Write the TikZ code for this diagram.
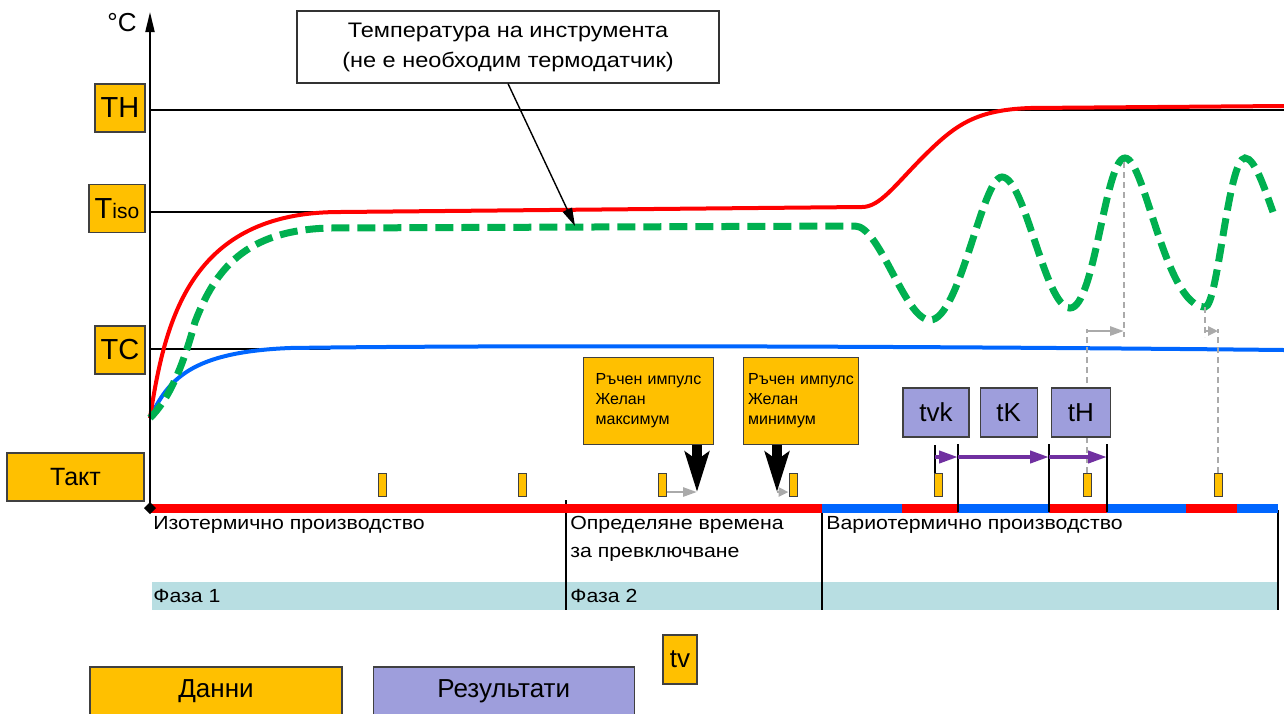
\documentclass[tikz,border=0pt]{standalone}
\usepackage{fontspec}
\setmainfont{Liberation Sans}
\newfontfamily\widefont[FakeStretch=1.12]{Liberation Sans}
\usetikzlibrary{positioning,arrows.meta}
\definecolor{boxgold}{RGB}{255,192,0}
\definecolor{boxlav}{RGB}{158,158,220}
\definecolor{arrowviolet}{RGB}{112,48,160}
\definecolor{phasebg}{RGB}{184,222,226}
\definecolor{hotred}{RGB}{255,0,0}
\definecolor{coolblue}{RGB}{0,102,255}
\definecolor{toolgreen}{RGB}{0,176,80}
\definecolor{guidegray}{RGB}{170,170,170}
\tikzset{
  data/.style={draw=black!75, fill=boxgold, line width=0.6pt, inner sep=0pt},
  result/.style={draw=black!75, fill=boxlav, line width=0.6pt, inner sep=0pt},
  levelbox/.style={data, font=\fontsize{14.5}{16}\selectfont, minimum height=24pt},
  pulsebox/.style={data, font=\fontsize{8}{10}\selectfont, align=left, text width=53pt,
    minimum height=43.5pt, anchor=north west},
  taktmark/.style={data, line width=0.5pt, minimum width=4pt, minimum height=11.5pt},
  period/.style={result, font=\fontsize{13}{15}\selectfont, minimum height=24.5pt},
  legendbox/.style={font=\fontsize{13}{15}\selectfont, minimum width=126pt, minimum height=24.5pt},
  phasetext/.style={font=\widefont\fontsize{9.5}{14}\selectfont, inner sep=0pt, anchor=west, align=left},
  callout/.style={draw=black!80, fill=white, line width=0.6pt, align=center,
    font=\widefont\fontsize{10.5}{15}\selectfont, minimum width=211pt, minimum height=36pt},
  refline/.style={black, line width=0.6pt},
  tcurve/.style={line width=2pt},
  toolcurve/.style={toolgreen, line width=3.5pt, dash pattern=on 9pt off 4pt},
  axisline/.style={black, line width=1pt, -{Triangle[length=10pt,width=4.5pt]}},
  pointer/.style={black, line width=0.7pt, -{Triangle[length=9pt,width=5pt]}},
  pulsearrow/.style={black, line width=5pt, -{Stealth[length=20pt,width=12pt,inset=4pt]}},
  cyclearrow/.style={arrowviolet, line width=2pt, -{Triangle[length=9.5pt,width=6pt]}},
  shiftarrow/.style={guidegray, line width=1.3pt, -{Triangle[length=7pt,width=4.5pt]}},
  guide/.style={guidegray, line width=0.7pt, dash pattern=on 3pt off 2pt},
  divider/.style={black, line width=0.9pt},
}
\begin{document}
\begin{tikzpicture}[x=0.5pt, y=-0.5pt]
  \useasboundingbox (0,0) rectangle (1284,713);

  % phases
  \fill[phasebg] (152,582) rectangle (1278,610);
  \draw[divider] (566,500) -- (566,610);
  \draw[divider] (822,510) -- (822,610);
  \draw[divider] (1278,510) -- (1278,610);

  \draw[refline] (150,110) -- (1284,110);
  \draw[refline] (150,212) -- (343,212);
  \draw[refline] (150,349) -- (330,349);

  % temperatures
  \draw[tcurve, coolblue] (150,418) .. controls (168,380) and (190,352) .. (290,348)
    .. controls (500,345) and (900,346) .. (1284,350);
  \draw[tcurve, hotred] (150,418) .. controls (165,320) and (190,212) .. (340,212) -- (862,207)
    .. controls (880,207) and (895,185) .. (923,157)
    .. controls (955,125) and (975,110) .. (1030,108) -- (1284,106);
  \draw[toolcurve] (150,418) .. controls (168,400) and (182,370) .. (195,322)
    .. controls (215,270) and (245,230) .. (330,228) -- (855,226)
    .. controls (880,226) and (905,320) .. (930,320)
    .. controls (960,320) and (982,177) .. (1002,177)
    .. controls (1025,177) and (1045,308) .. (1070,308)
    .. controls (1095,308) and (1105,158) .. (1125,158)
    .. controls (1145,158) and (1165,307) .. (1205,307)
    .. controls (1218,307) and (1228,158) .. (1245,158)
    .. controls (1255,158) and (1265,190) .. (1273,212);

  % cycle bar
  \foreach \from/\to/\col in {150/822/hotred, 822/902/coolblue, 902/958/hotred,
      958/1049/coolblue, 1049/1107/hotred, 1107/1186/coolblue, 1186/1237/hotred, 1237/1278/coolblue}
    \draw[\col, line width=4.5pt] (\from,508) -- (\to,508);
  \draw[axisline] (150,508) -- (150,12);
  \fill (150,502) -- (156,508) -- (150,514) -- (144,508) -- cycle;
  \node[font=\fontsize{13}{15}\selectfont, inner sep=0pt] (unit) at (122,23) {°C};

  \foreach \x in {958,1049,1107}
    \draw[black, line width=0.6pt] (\x,444) -- (\x,512);
  \draw[black, line width=0.6pt] (935,445) -- (935,473);

  \foreach \x [count=\i] in {382,522,662,793,938,1087,1218}
    \node[taktmark] (m\i) at (\x,485) {};

  % switching points
  \coordinate (peak) at (1124,162);
  \coordinate (trough) at (1205,307);
  \draw[guide] (peak) -- (peak |- 0,337);
  \draw[guide] (m6.north) -- (m6.north |- 0,329);
  \draw[shiftarrow] (m6.north |- 0,331) -- (peak |- 0,331);
  \draw[guide] (trough) -- (trough |- 0,337);
  \draw[guide] (m7.north) -- (m7.north |- 0,329);
  \draw[shiftarrow, -{Triangle[length=5pt,width=4.5pt]}] (trough |- 0,331) -- (m7.north |- 0,331);

  \coordinate (c0) at (935,457);
  \coordinate (c1) at (958,457);
  \coordinate (c2) at (1049,457);
  \coordinate (c3) at (1107,457);
  \draw[cyclearrow] (c0) -- (c1);
  \draw[cyclearrow] (c1) -- (c2);
  \draw[cyclearrow] (c2) -- (c3);

  % labels
  \node[levelbox, minimum width=25pt] (TH) at (120,108) {TH};
  \node[levelbox, minimum width=28pt] (Tiso) at (117,208.5) {T{\fontsize{10.5}{12}\selectfont iso}};
  \node[levelbox, minimum width=25pt] (TC) at (120,350) {TC};
  \node[data, font=\fontsize{12.5}{14}\selectfont, minimum width=68.5pt, minimum height=24pt] (takt) at (75.5,477) {Такт};

  \node[callout] (note) at (508,47) {Температура на инструмента\\(не е необходим термодатчик)};
  \coordinate (toolpt) at (575,226);
  \draw[pointer] (note.south) -- (toolpt);

  \node[pulsebox, inner xsep=6pt] (maxbox) at (583,357) {Ръчен импулс\\Желан\\максимум};
  \node[pulsebox, inner xsep=2.25pt] (minbox) at (743,357) {Ръчен импулс\\Желан\\минимум};
  \coordinate (hitmax) at (697,492);
  \coordinate (hitmin) at (777,492);
  \draw[shiftarrow] (m3.east |- hitmax) -- (hitmax);
  \draw[shiftarrow, -{Triangle[length=5pt,width=4.5pt]}] (hitmin) -- (m4.west |- hitmin);
  \draw[pulsearrow] (maxbox.south -| hitmax) -- (hitmax);
  \draw[pulsearrow] (minbox.south -| hitmin) -- (hitmin);

  \node[period, minimum width=33pt] (tvk) at (936,412.5) {tvk};
  \node[period, minimum width=28.5pt, right=5pt of tvk] (tK) {tK};
  \node[period, minimum width=29.5pt, right=6.5pt of tK] (tH) {tH};

  \node[phasetext] (iso) at (153,525) {Изотермично производство};
  \node[phasetext] (switch) at (570,539) {Определяне времена\\за превключване};
  \node[phasetext] (vario) at (826,525) {Вариотермично производство};
  \node[phasetext] (ph1) at (153,596) {Фаза 1};
  \node[phasetext] (ph2) at (570,596) {Фаза 2};

  % legend
  \node[data, font=\fontsize{13}{15}\selectfont, minimum width=17pt, minimum height=24.5pt] (tv) at (680,659.5) {tv};
  \node[data, legendbox] (datalbl) at (216,691.5) {Данни};
  \node[result, legendbox, minimum width=130.5pt, right=15pt of datalbl] (reslbl) {Результати};
\end{tikzpicture}
\end{document}
